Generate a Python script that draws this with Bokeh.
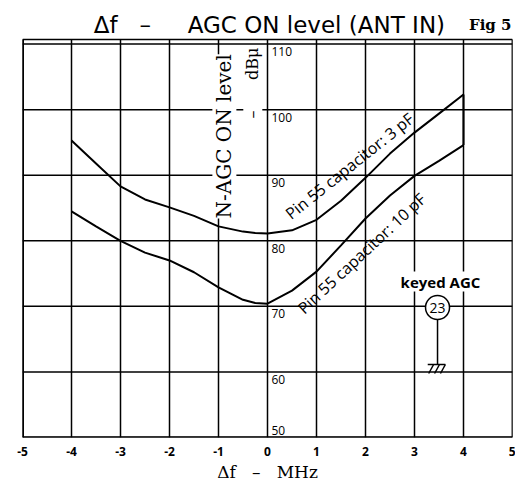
import numpy as np
from bokeh.plotting import figure
from bokeh.models import Label, FixedTicker, ColumnDataSource
from bokeh.core.properties import value
from bokeh.embed import file_html
from bokeh.resources import INLINE

# ---- data ----
x_vals = [-4, -3.5, -3, -2.5, -2, -1.5, -1, -0.5, -0.25, 0, 0.5, 1, 1.5, 2, 2.5, 3, 3.5, 4]
cap_3pF = [95.3, 91.8, 88.3, 86.3, 85.1, 83.8, 82.2, 81.4, 81.2, 81.1, 81.6, 83.2, 86.1, 89.6, 93.3, 96.5, 99.4, 102.3]
cap_10pF = [84.5, 82.2, 80.0, 78.2, 77.0, 75.2, 72.9, 71.0, 70.5, 70.4, 72.4, 75.3, 79.3, 83.4, 86.9, 89.9, 92.2, 94.6]

x_ticks = [-5, -4, -3, -2, -1, 0, 1, 2, 3, 4, 5]
x_tick_labels = ["-5", "-4", "-3", "-2", "-1", "0", "1", "2", "3", "4", "5"]
y_ticks = [50, 60, 70, 80, 90, 100, 110]
y_tick_labels = ["50", "60", "70", "80", "90", "100", "110"]

X_MIN, X_MAX = -5, 5
Y_MIN, Y_MAX = 50, 110.7          # chart box
W, H = 515, 484
LEFT, RIGHT = 22, 3               # borders in px
FRAME_H = 437                     # frame bottom in px (frame starts at top of canvas)
BOX_TOP_PX = 39                   # pixel where the chart box top sits
scale = (FRAME_H - BOX_TOP_PX) / (Y_MAX - Y_MIN)
Y_TOP = Y_MAX + BOX_TOP_PX / scale   # extra room above the box for the heading

SANS = "Open Sans"
WIDE = "DejaVu Sans"
SERIF = "DejaVu Serif"
NB = "\u00a0"

p = figure(width=W, height=H, x_range=(X_MIN, X_MAX), y_range=(Y_MIN, Y_TOP),
           output_backend="svg", toolbar_location=None,
           min_border_left=LEFT, min_border_right=RIGHT, min_border_top=0,
           min_border_bottom=0)

p.background_fill_color = "white"
p.border_fill_color = "white"
p.outline_line_color = None
p.grid.visible = False
p.yaxis.visible = False

# x axis
ax = p.xaxis[0]
ax.ticker = FixedTicker(ticks=x_ticks)
ax.major_label_overrides = {t: l for t, l in zip(x_ticks, x_tick_labels)}
ax.major_tick_line_color = None
ax.major_tick_out = 0
ax.major_tick_in = 0
ax.minor_tick_line_color = None
ax.minor_tick_out = 0
ax.axis_line_color = None
ax.major_label_text_font = SANS
ax.major_label_text_font_style = "bold"
ax.major_label_text_font_size = "12px"
ax.major_label_text_color = "black"
ax.major_label_standoff = 9
ax.axis_label = "\u0394f" + NB * 3 + "\u2013" + NB * 3 + "MHz"
ax.axis_label_text_font = SERIF
ax.axis_label_text_font_style = "normal"
ax.axis_label_text_font_size = "17px"
ax.axis_label_text_color = "black"
ax.axis_label_standoff = 3

# grid lines of the chart box (from the tick lists)
p.segment(x0=x_ticks, y0=[Y_MIN] * len(x_ticks), x1=x_ticks, y1=[Y_MAX] * len(x_ticks),
          line_color="black", line_width=1.5)
p.segment(x0=[X_MIN] * len(y_ticks), y0=y_ticks, x1=[X_MAX] * len(y_ticks), y1=y_ticks,
          line_color="black", line_width=1.5)
# box border
p.segment(x0=[X_MIN, X_MIN, X_MIN, X_MAX], y0=[Y_MIN, Y_MIN, Y_MAX, Y_MIN],
          x1=[X_MIN, X_MAX, X_MAX, X_MAX], y1=[Y_MAX, Y_MIN, Y_MAX, Y_MAX],
          line_color="black", line_width=[3, 2.5, 1.5, 1.5])

# curves
src = ColumnDataSource(dict(x=x_vals, a=cap_3pF, b=cap_10pF))
p.line("x", "a", source=src, line_color="black", line_width=2)
p.line("x", "b", source=src, line_color="black", line_width=2)
p.segment(x0=[x_vals[-1]], y0=[cap_3pF[-1]], x1=[x_vals[-1]], y1=[cap_10pF[-1]],
          line_color="black", line_width=2)

# y tick labels to the right of the x=0 line
ty = [t - 0.45 if t != Y_MIN else t + 0.45 for t in y_ticks]
tb = ["top" if t != Y_MIN else "bottom" for t in y_ticks]
p.text(x=[0.08] * len(y_ticks), y=ty, text=y_tick_labels, text_baseline=tb,
       text_align="left", text_font=value(SANS), text_font_size="12px",
       text_color="black")

def px_y(py):
    return Y_TOP - py / scale

# heading
p.add_layout(Label(x=0.04, y=px_y(24),
                   text="\u0394f" + NB * 3 + "\u2013" + NB * 5 + "AGC ON level (ANT IN)",
                   text_align="center", text_baseline="alphabetic",
                   text_font=WIDE, text_font_size="23px", text_color="black"))
p.add_layout(Label(x=4.98, y=px_y(24), text="Fig 5", text_align="right",
                   text_baseline="alphabetic", text_font=SERIF,
                   text_font_size="15px", text_font_style="bold", text_color="black"))

# y title (rotated)
p.add_layout(Label(x=-0.88, y=px_y(218), text="N-AGC ON level", angle=np.pi / 2,
                   text_align="left", text_baseline="middle", text_font=SERIF,
                   text_font_size="20px", text_color="black",
                   background_fill_color="white"))
p.add_layout(Label(x=-0.3, y=px_y(118), text="\u2013" + NB * 6 + "dB\u03bc", angle=np.pi / 2,
                   text_align="left", text_baseline="middle", text_font=SERIF,
                   text_font_size="16px", text_color="black",
                   background_fill_color="white"))

# curve labels
p.add_layout(Label(x=0.41, y=px_y(215), text="Pin 55 capacitor: 3 pF", angle=0.675,
                   text_align="left", text_baseline="alphabetic", text_font=SANS,
                   text_font_size="16px", text_color="black"))
p.add_layout(Label(x=0.67, y=px_y(310), text="Pin 55 capacitor: 10 pF", angle=0.75,
                   text_align="left", text_baseline="alphabetic", text_font=SANS,
                   text_font_size="16px", text_color="black"))

# keyed AGC pin symbol
p.add_layout(Label(x=3.53, y=px_y(281), text="keyed AGC", text_align="center",
                   text_baseline="middle", text_font=SANS, text_font_size="15px",
                   text_font_style="bold", text_color="black",
                   background_fill_color="white"))
cx, cy = 3.47, px_y(307)
p.segment(x0=[cx], y0=[cy], x1=[cx], y1=[px_y(364)], line_color="black", line_width=1.5)
p.segment(x0=[3.27], y0=[px_y(364)], x1=[3.63], y1=[px_y(364)], line_color="black", line_width=1.5)
p.segment(x0=[3.39, 3.51, 3.63], y0=[px_y(364)] * 3, x1=[3.29, 3.41, 3.53], y1=[px_y(373)] * 3,
          line_color="black", line_width=1.5)
p.scatter(x=[cx], y=[cy], size=24, marker="circle", fill_color="white",
          line_color="black", line_width=1.5)
p.text(x=[cx], y=[cy], text=["23"], text_align="center", text_baseline="middle",
       text_font=value(SANS), text_font_size="14px", text_color="black")

open("out.html", "w").write(file_html(p, INLINE))
